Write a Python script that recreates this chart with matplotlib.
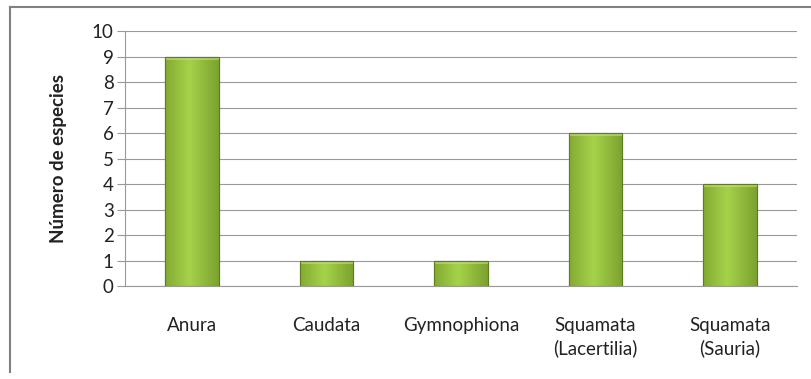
import matplotlib
matplotlib.use("Agg")
import matplotlib.pyplot as plt
from matplotlib.lines import Line2D
import numpy as np

categories = ["Anura", "Caudata", "Gymnophiona", "Squamata\n(Lacertilia)", "Squamata\n(Sauria)"]
species = [9, 1, 1, 6, 4]
y_ticks = list(range(0, 11))

plt.rcParams['font.family'] = ['Lato', 'DejaVu Sans']

fig = plt.figure(figsize=(8.11, 3.79), dpi=100)
ax = fig.add_axes([0.154, 0.245, 0.829, 0.673])

x = np.arange(len(categories))
bars = ax.bar(x, species, width=0.4, color='#94bf3a', edgecolor='#5f7d1c', linewidth=0.8, zorder=3)

# horizontal gradient inside each bar
grad = np.linspace(0, 1, 64)
shade = 1 - np.abs(grad - 0.45) * 1.4
grad_img = np.vstack([shade, shade])
cmap = matplotlib.colors.LinearSegmentedColormap.from_list('g', ['#6f9427', '#a6d24a'])
for b in bars:
    bx, by = b.get_x(), b.get_y()
    w, h = b.get_width(), b.get_height()
    im = ax.imshow(grad_img, extent=[bx, bx + w, by, by + h], aspect='auto', cmap=cmap,
                   vmin=0, vmax=1, zorder=3.5)
    im.set_clip_path(b)
    ax.add_patch(plt.Rectangle((bx, by + h - 0.12), w, 0.12, facecolor='#c2e36a', alpha=0.6,
                               edgecolor='none', zorder=3.6, clip_on=False))
    ax.add_patch(plt.Rectangle((bx, by), w, h, facecolor='none', edgecolor='#5f7d1c',
                               linewidth=0.8, zorder=3.7))

ax.set_xlim(-0.5, len(categories) - 0.5)
ax.set_ylim(0, 10)
ax.set_yticks(y_ticks)
ax.set_xticks(x)
ax.set_xticklabels(categories, fontsize=13.5, color='#222222', linespacing=1.35)
ax.tick_params(axis='x', length=0, pad=22)
ax.tick_params(axis='y', length=6, color='#999999', labelsize=13.5, labelcolor='#222222', pad=2)
ax.yaxis.grid(True, color='#999999', linewidth=0.8, zorder=0)
ax.set_axisbelow(True)
for s in ['top', 'right']:
    ax.spines[s].set_visible(False)
ax.spines['left'].set_color('#999999')
ax.spines['bottom'].set_color('#999999')
ax.set_ylabel('Número de especies', fontsize=13.5, fontweight='bold', color='#222222', labelpad=18)

# chart area border (left and top edges)
fig.add_artist(Line2D([0.012, 0.012], [0.018, 0.982], color='#808080', linewidth=1.5))
fig.add_artist(Line2D([0.012, 1.0], [0.982, 0.982], color='#808080', linewidth=1.5))

fig.savefig('out.png', dpi=100)
